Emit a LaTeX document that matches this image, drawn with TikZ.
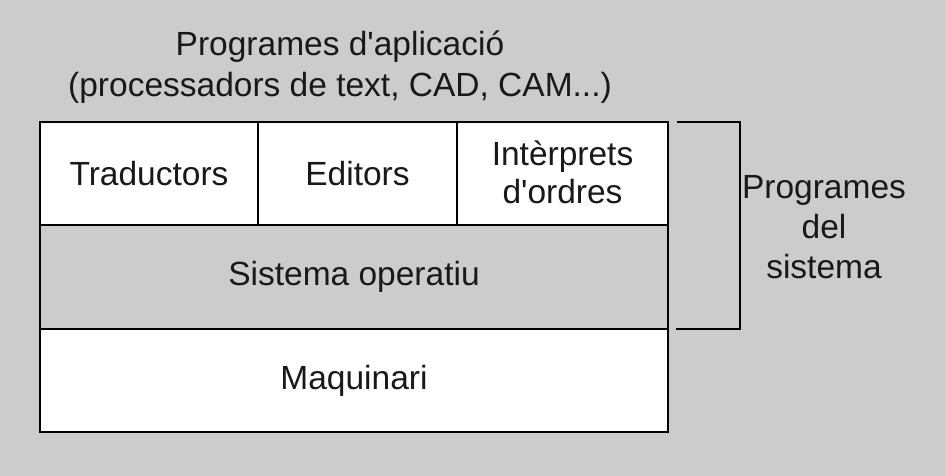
\documentclass[tikz,border=0pt]{standalone}
\usepackage{fontspec}
\setmainfont{Liberation Sans}[Ligatures=TeXOff]
\definecolor{bg}{HTML}{CCCCCC}
\begin{document}
\begin{tikzpicture}[x=1pt,y=-1pt,
  cell/.style={draw=black,line width=2pt,inner sep=0pt,outer sep=0pt,anchor=north west},
  lbl/.style={font=\fontsize{33.5}{40}\selectfont,align=center,text=black!90},
  brk/.style={draw=black,line width=2pt}]
\fill[bg] (0,0) rectangle (945,476);
\useasboundingbox (0,0) rectangle (945,476);
\node[cell,fill=white,minimum width=218pt,minimum height=103pt] (trad) at (40,122) {};
\node[cell,fill=white,minimum width=199pt,minimum height=103pt] (edit) at (258,122) {};
\node[cell,fill=white,minimum width=211pt,minimum height=103pt] (inter) at (457,122) {};
\node[cell,fill=bg,minimum width=628pt,minimum height=104pt] (so) at (40,225) {};
\node[cell,fill=white,minimum width=628pt,minimum height=103pt] (maq) at (40,329) {};
\node[lbl] at (trad.center) {Traductors};
\node[lbl] at (edit.center) {Editors};
\node[lbl,font=\fontsize{33.5}{38}\selectfont] at ([yshift=1pt]inter.center) {Intèrprets\\d'ordres};
\node[lbl] at (so.center) {Sistema operatiu};
\node[lbl] at (maq.center) {Maquinari};
\node[lbl,font=\fontsize{33.5}{41}\selectfont] (app) at (340,67) {Programes d'aplicació\\(processadors de text, CAD, CAM...)};
\coordinate (b1) at (677,122);
\coordinate (b2) at (740,122);
\coordinate (b3) at (740,329);
\coordinate (b4) at (676,329);
\draw[brk] (b1) -- (b2) -- (b3) -- (b4);
\node[lbl] (ps) at (824,227) {Programes\\del\\sistema};
\end{tikzpicture}
\end{document}
